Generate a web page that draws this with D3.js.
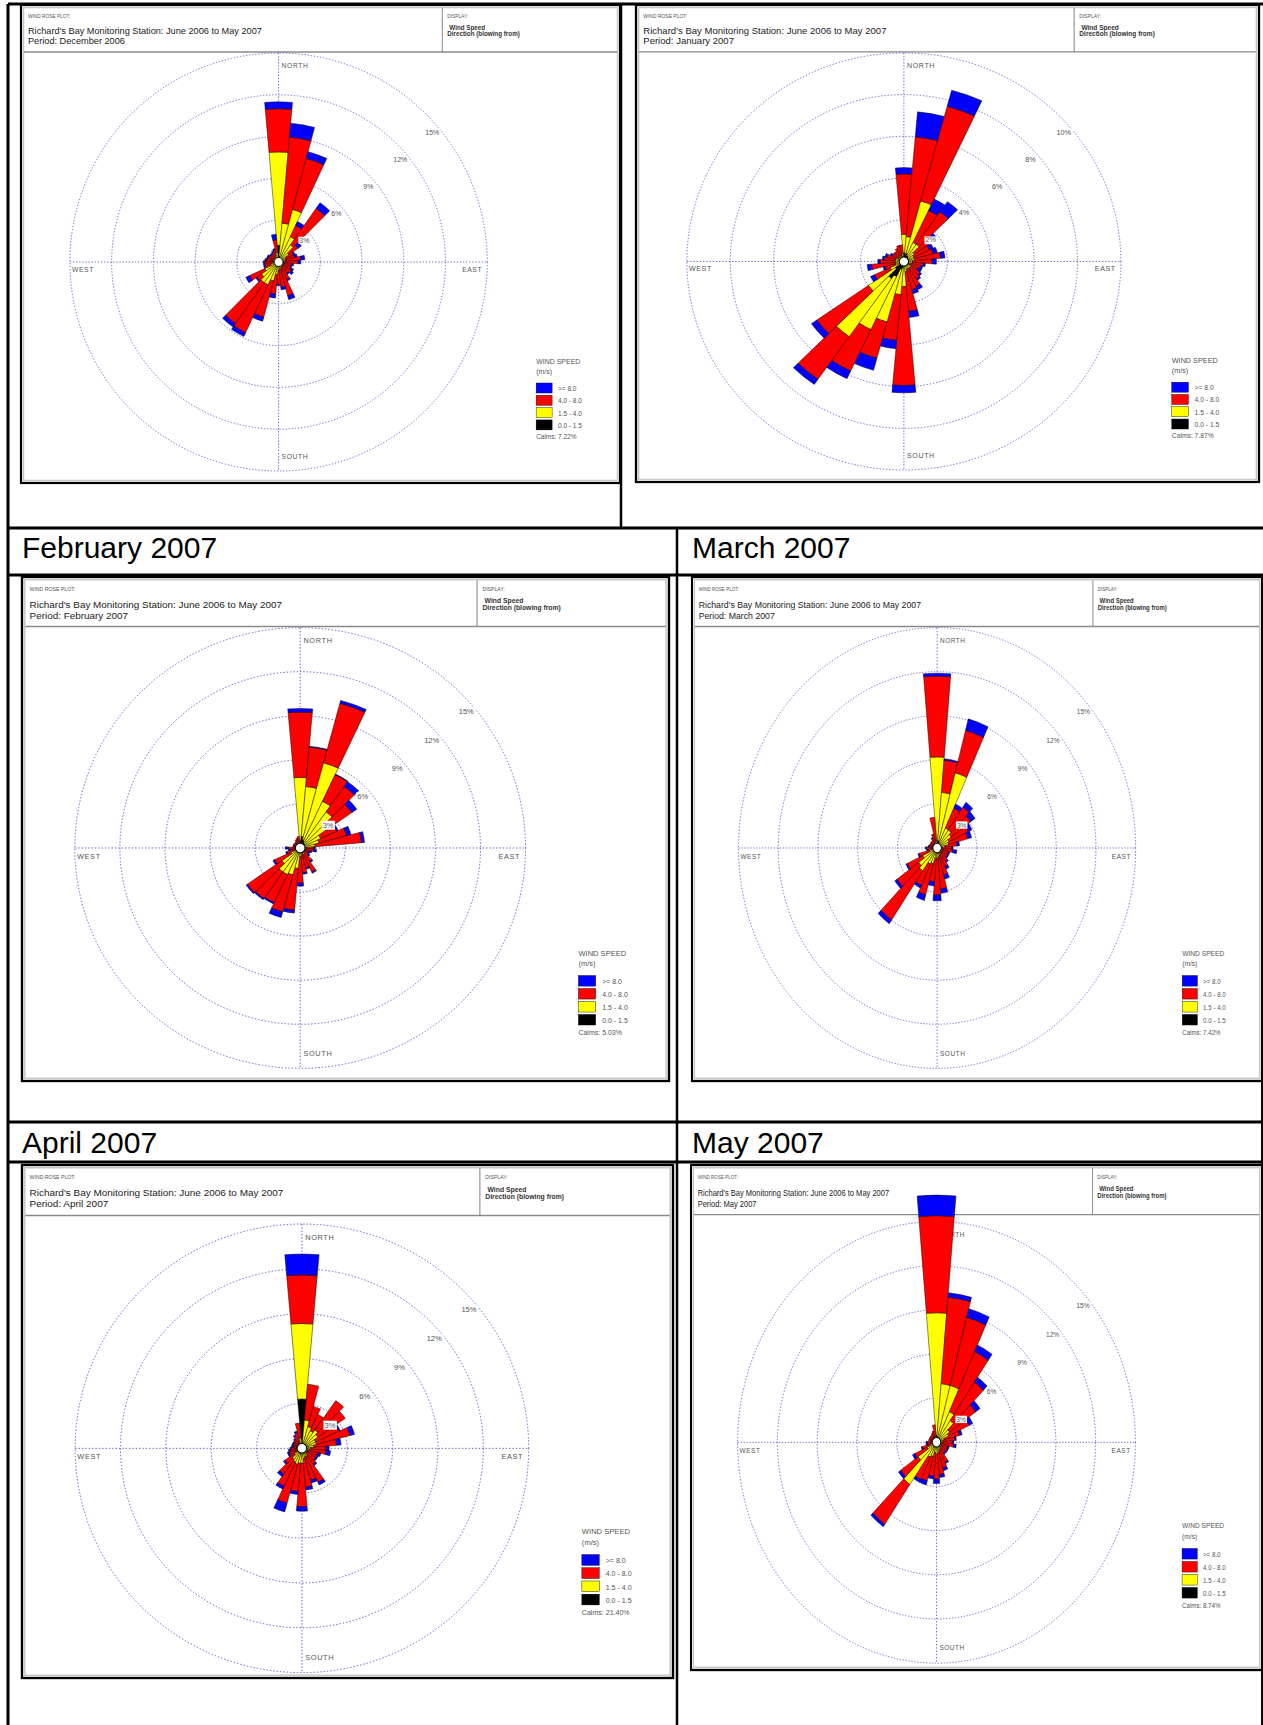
<!DOCTYPE html>
<html><head><meta charset="utf-8">
<script src="https://cdn.jsdelivr.net/npm/d3@7/dist/d3.min.js"></script>
<style>body{margin:0;background:#fff}svg{display:block}text{font-family:"Liberation Sans",Arial,sans-serif}</style>
</head><body>
<svg id="c" width="1263" height="1725"></svg>
<script>
// ---------- categories ----------
const directions = [0,10,20,30,40,50,60,70,80,90,100,110,120,130,140,150,160,170,
                    180,190,200,210,220,230,240,250,260,270,280,290,300,310,320,330,340,350];
const speedClasses = ["0.0 - 1.5","1.5 - 4.0","4.0 - 8.0",">= 8.0"];
const classColors = ["#000000","#ffff00","#ff0000","#0000ff"];
const stationTitle = "Richard's Bay Monitoring Station: June 2006 to May 2007";

// ---------- series values (% of time), per direction 0..350 ----------
// December 2006
const decBlack  = [1.2,0.4,0.3,0.2,0.2,0.1,0.1,0.1,0.1, 0.1,0.1,0.1,0.1,0.1,0.1,0.1,0.1,0.1, 0.1,0.1,0.1,0.2,0.2,0.1,0.1,0.1,0.1, 0.1,0.1,0.1,0.1,0.1,0.1,0.1,0.2,0.3];
const decYellow = [6.7,2.4,3.6,1.8,1.3,0.8,0.5,0.4,0.4, 0.3,0.3,0.3,0.3,0.3,0.3,0.3,0.4,0.4, 0.5,0.8,1.3,1.6,1.6,1.4,1.0,0.5,0.4, 0.3,0.3,0.3,0.3,0.3,0.3,0.3,0.3,0.4];
const decRed    = [3.1,6.2,3.8,0.9,3.2,0.8,0.6,0.7,1.1, 1.0,0.6,0.5,0.6,0.7,0.6,1.0,2.0,1.3, 1.0,1.4,2.7,3.8,3.6,0.4,1.2,0.4,0.5, 0.6,0.5,0.4,0.4,0.3,0.3,0.4,0.4,0.9];
const decBlue   = [0.5,1.0,0.5,0.3,0.5,0.3,0.1,0.2,0.3, 0.2,0.1,0.1,0.2,0.2,0.1,0.1,0.3,0.2, 0.1,0.3,0.3,0.3,0.3,0.1,0.3,0.1,0.1, 0.1,0.1,0.1,0.1,0.1,0.1,0.1,0.1,0.4];
// January 2007
const janBlack  = [0.4,0.4,0.4,0.3,0.3,0.2,0.1,0.1,0.1, 0.1,0.1,0.1,0.1,0.1,0.1,0.1,0.1,0.1, 0.2,0.3,0.4,0.8,1.0,0.5,0.2,0.1,0.1, 0.1,0.1,0.1,0.1,0.1,0.1,0.1,0.1,0.1];
const janYellow = [0.9,0.8,2.6,0.7,0.7,0.4,0.4,0.4,0.4, 0.3,0.3,0.2,0.2,0.3,0.3,0.3,0.3,0.4, 1.0,1.3,2.6,2.8,3.4,1.5,0.5,0.3,0.3, 0.3,0.3,0.3,0.2,0.2,0.2,0.2,0.2,0.3];
const janRed    = [2.9,4.8,4.7,1.7,1.9,1.1,0.8,0.9,1.2, 0.9,0.5,0.5,0.4,0.5,0.6,0.9,1.0,1.9, 4.75,2.2,1.8,2.2,2.5,2.9,0.8,0.5,1.1, 0.7,0.5,0.4,0.3,0.3,0.3,0.4,0.5,0.4];
const janBlue   = [0.3,1.2,0.8,0.6,0.6,0.2,0.2,0.2,0.2, 0.2,0.1,0.1,0.2,0.1,0.1,0.2,0.2,0.3, 0.35,0.4,0.6,0.4,0.3,0.3,0.2,0.1,0.2, 0.1,0.1,0.1,0.1,0.0,0.0,0.0,0.0,0.0];
// February 2007
const febBlack  = [0.5,0.8,0.6,0.5,0.4,0.4,0.3,0.3,0.2, 0.1,0.1,0.1,0.1,0.1,0.1,0.1,0.1,0.1, 0.1,0.2,0.3,0.3,0.3,0.2,0.1,0.1,0.1, 0.1,0.1,0.1,0.1,0.1,0.1,0.1,0.1,0.2];
const febYellow = [4.3,3.4,5.4,3.0,2.6,1.8,1.2,1.0,0.8, 0.3,0.3,0.2,0.2,0.2,0.3,0.4,0.3,0.4, 0.5,1.2,1.6,1.7,1.7,1.3,0.6,0.3,0.2, 0.2,0.1,0.1,0.1,0.1,0.1,0.2,0.2,0.2];
const febRed    = [4.45,2.7,4.2,2.0,2.1,2.0,1.2,1.9,3.1, 0.5,0.5,0.4,0.3,0.4,0.7,1.3,1.0,1.2, 1.8,2.85,2.6,2.1,2.2,2.8,1.2,0.5,0.3, 0.5,0.3,0.3,0.3,0.3,0.3,0.3,0.4,0.4];
const febBlue   = [0.25,0.05,0.2,0.05,0.4,0.4,0.1,0.3,0.2, 0.1,0.2,0.1,0.1,0.1,0.1,0.1,0.1,0.1, 0.2,0.2,0.4,0.1,0.1,0.1,0.1,0.1,0.2, 0.2,0.0,0.0,0.0,0.0,0.0,0.0,0.0,0.0];
// March 2007
const marBlack  = [0.5,0.5,0.5,0.3,0.3,0.3,0.2,0.2,0.1, 0.1,0.1,0.1,0.1,0.1,0.1,0.1,0.1,0.1, 0.1,0.1,0.2,0.2,0.3,0.3,0.2,0.1,0.1, 0.1,0.1,0.1,0.1,0.1,0.1,0.1,0.1,0.1];
const marYellow = [5.7,3.3,4.8,1.2,1.2,1.0,0.8,0.7,0.5, 0.3,0.3,0.3,0.3,0.3,0.3,0.3,0.4,0.5, 0.6,0.6,0.9,1.0,1.6,1.4,1.0,0.5,0.2, 0.2,0.2,0.2,0.2,0.2,0.2,0.2,0.3,0.4];
const marRed    = [5.5,2.2,3.0,1.5,1.9,1.8,1.6,1.5,0.9, 0.7,0.8,0.5,0.5,0.5,0.7,1.0,1.4,2.2, 2.5,1.6,2.2,1.6,4.1,2.0,1.3,0.8,0.4, 0.5,0.3,0.3,0.3,0.3,0.3,0.4,0.6,1.6];
const marBlue   = [0.2,0.1,0.8,0.3,0.4,0.4,0.3,0.3,0.2, 0.1,0.3,0.1,0.1,0.1,0.1,0.2,0.3,0.3, 0.4,0.3,0.4,0.2,0.3,0.2,0.1,0.1,0.1, 0.1,0.1,0.0,0.0,0.0,0.0,0.1,0.0,0.0];
// April 2007
const aprBlack  = [3.3,0.4,0.3,0.3,0.3,0.3,0.2,0.2,0.2, 0.1,0.1,0.1,0.1,0.1,0.1,0.1,0.1,0.1, 0.2,0.2,0.2,0.2,0.2,0.1,0.1,0.1,0.1, 0.1,0.1,0.1,0.1,0.1,0.1,0.1,0.1,0.2];
const aprYellow = [5.05,1.5,1.2,1.0,1.2,1.0,0.8,0.8,0.6, 0.5,0.4,0.3,0.3,0.3,0.3,0.5,0.5,0.6, 0.8,0.8,0.9,0.8,0.7,0.5,0.3,0.3,0.3, 0.2,0.2,0.2,0.2,0.2,0.2,0.3,0.3,0.5];
const aprRed    = [3.25,2.4,1.4,1.2,2.4,2.2,1.7,2.3,1.5, 1.0,1.1,0.7,0.7,0.7,0.9,1.9,1.6,1.9, 2.9,1.9,2.7,1.8,1.2,0.8,0.5,0.5,0.4, 0.4,0.3,0.3,0.3,0.3,0.4,0.5,0.7,1.0];
const aprBlue   = [1.4,0.0,0.0,0.0,0.0,0.0,0.1,0.3,0.3, 0.2,0.3,0.2,0.1,0.1,0.1,0.2,0.2,0.2, 0.3,0.2,0.6,0.2,0.2,0.1,0.1,0.1,0.1, 0.1,0.1,0.1,0.1,0.1,0.1,0.1,0.1,0.0];
// May 2007
const mayBlack  = [0.5,0.4,0.4,0.3,0.3,0.2,0.2,0.1,0.1, 0.1,0.1,0.1,0.1,0.1,0.1,0.1,0.1,0.1, 0.1,0.1,0.2,0.2,0.3,0.2,0.1,0.1,0.1, 0.1,0.1,0.1,0.1,0.1,0.1,0.1,0.1,0.1];
const mayYellow = [8.3,3.6,3.6,2.0,1.5,1.0,0.8,0.5,0.4, 0.3,0.3,0.3,0.3,0.3,0.3,0.4,0.5,0.6, 0.7,0.6,0.8,0.9,3.2,1.5,0.7,0.4,0.2, 0.2,0.2,0.2,0.2,0.2,0.2,0.2,0.2,0.3];
const mayRed    = [6.6,5.9,4.8,4.5,3.2,2.4,1.7,1.2,0.9, 0.8,0.9,0.5,0.5,0.5,0.5,1.0,1.2,1.5, 1.7,1.6,1.7,1.7,3.3,1.6,1.0,0.6,0.4, 0.4,0.3,0.3,0.3,0.3,0.3,0.4,0.5,0.8];
const mayBlue   = [1.4,0.3,0.6,0.5,0.4,0.4,0.3,0.2,0.1, 0.1,0.2,0.1,0.1,0.1,0.1,0.1,0.2,0.2, 0.3,0.2,0.3,0.2,0.2,0.2,0.2,0.1,0.1, 0.1,0.0,0.0,0.0,0.0,0.0,0.0,0.0,0.0];

// ---------- tick labels / texts ----------
const ringsDefault = [3,6,9,12,15];
const ringsJan = [2,4,6,8,10];
const rowLabels = ["February 2007","March 2007","April 2007","May 2007"];

const panels = [
  {period:"December 2006", calms:"7.22%", rings:ringsDefault, series:[decBlack,decYellow,decRed,decBlue]},
  {period:"January 2007",  calms:"7.87%", rings:ringsJan,     series:[janBlack,janYellow,janRed,janBlue]},
  {period:"February 2007", calms:"5.03%", rings:ringsDefault, series:[febBlack,febYellow,febRed,febBlue]},
  {period:"March 2007",    calms:"7.42%", rings:ringsDefault, series:[marBlack,marYellow,marRed,marBlue]},
  {period:"April 2007",    calms:"21.40%",rings:ringsDefault, series:[aprBlack,aprYellow,aprRed,aprBlue]},
  {period:"May 2007",      calms:"8.74%", rings:ringsDefault, series:[mayBlack,mayYellow,mayRed,mayBlue]}
];

// ---------- layout (page coordinates) ----------
const panelBoxes = [[21,5,599,478],[636,5,623,477],[22,577,647,504],[692,577,570,504],[22,1165,651,513],[691,1165,571,505]];
// per-panel fine offsets inside the (base 600x478) panel: rose dy, legend dy, title font scale
const panelTweaks = [[0,0,1],[0,0,1],[0,0,1],[0,0,1],[7,-15,1],[5.5,-15,0.86]];
const labelPos = [[22,558],[692,558],[22,1153],[692,1153]];
const tableLines = [
  [8,4,1263,4,3],[8,4,8,1725,3],[621,4,621,528,2.5],
  [8,528,1263,528,3],[8,575,1263,575,3],[677,528,677,1725,2.5],
  [8,1122,1263,1122,3],[8,1162,1263,1162,3],[1262,575,1262,1725,2]
];

const svg = d3.select("#c");
const BW = 600, BH = 478, CX = 258, CY = 257, R = 209;
const ringColor = "#5c5cc8";

tableLines.forEach(l => svg.append("line").attr("x1",l[0]).attr("y1",l[1]).attr("x2",l[2]).attr("y2",l[3])
  .attr("stroke","#000").attr("stroke-width",l[4]));

rowLabels.forEach((t,i) => svg.append("text").attr("x",labelPos[i][0]).attr("y",labelPos[i][1])
  .attr("font-size",30).attr("fill","#000").text(t));

panels.forEach((p, pi) => {
  const [bx,by,bw,bh] = panelBoxes[pi];
  const [rdy, ldy, ts] = panelTweaks[pi];
  const g = svg.append("g").attr("transform",`translate(${bx},${by}) scale(${bw/BW},${bh/BH})`);
  g.append("rect").attr("x",0).attr("y",0).attr("width",BW).attr("height",BH).attr("fill","#fff").attr("stroke","#000").attr("stroke-width",2.2);
  g.append("rect").attr("x",2.5).attr("y",2.5).attr("width",BW-5).attr("height",BH-5).attr("fill","none").attr("stroke","#c8c8c8").attr("stroke-width",1.5);
  // header
  g.append("line").attr("x1",3).attr("x2",BW-3).attr("y1",47).attr("y2",47).attr("stroke","#8a8a8a").attr("stroke-width",1.3);
  g.append("line").attr("x1",422).attr("x2",422).attr("y1",3).attr("y2",47).attr("stroke","#8a8a8a").attr("stroke-width",1);
  g.append("text").attr("x",7).attr("y",13).attr("font-size",4.8).attr("fill","#555").text("WIND ROSE PLOT:");
  g.append("text").attr("x",7).attr("y",29).attr("font-size",9.2*ts).attr("fill","#222").text(stationTitle);
  g.append("text").attr("x",7).attr("y",39.5).attr("font-size",9.2*ts).attr("fill","#222").text("Period: " + p.period);
  g.append("text").attr("x",427).attr("y",13).attr("font-size",4.8).attr("fill","#555").text("DISPLAY:");
  g.append("text").attr("x",429).attr("y",25).attr("font-size",6.3).attr("font-weight","bold").attr("fill","#333").text("Wind Speed");
  g.append("text").attr("x",427).attr("y",31.5).attr("font-size",6.3).attr("font-weight","bold").attr("fill","#333").text("Direction (blowing from)");

  const maxRing = p.rings[p.rings.length-1];
  const r = d3.scaleLinear().domain([0,maxRing]).range([0,R]);
  const rose = g.append("g").attr("transform",`translate(${CX},${CY+rdy})`);
  rose.selectAll("circle.ring").data(p.rings).join("circle").attr("class","ring")
    .attr("r",d=>r(d)).attr("fill","none").attr("stroke",ringColor).attr("stroke-width",0.9).attr("stroke-dasharray","1.3,1.8");
  rose.append("line").attr("x1",-R).attr("x2",R).attr("y1",0).attr("y2",0).attr("stroke",ringColor).attr("stroke-width",0.9).attr("stroke-dasharray","1.3,1.8");
  rose.append("line").attr("y1",-R).attr("y2",R).attr("x1",0).attr("x2",0).attr("stroke",ringColor).attr("stroke-width",0.9).attr("stroke-dasharray","1.3,1.8");

  // compass labels (under the bars)
  const lab = (x,y,t,anchor) => rose.append("text").attr("x",x).attr("y",y).attr("text-anchor",anchor)
    .attr("font-size",6.8).attr("letter-spacing",0.6).attr("fill","#555").text(t);
  lab(3, -R+15, "NORTH", "start");
  lab(3, R-12, "SOUTH", "start");
  lab(R-5, 10, "EAST", "end");
  lab(-R+2, 10, "WEST", "start");

  // stacked sectors
  const arc = d3.arc();
  const segs = [];
  directions.forEach((dir, i) => {
    let cum = 0;
    p.series.forEach((s, c) => {
      const v = s[i];
      if (v > 0) segs.push({dir, c, a: cum, b: cum + v});
      cum += v;
    });
  });
  rose.selectAll("path.seg").data(segs).join("path").attr("class","seg")
    .attr("d", d => arc({innerRadius:r(d.a), outerRadius:r(d.b),
        startAngle:(d.dir-5)*Math.PI/180, endAngle:(d.dir+5)*Math.PI/180}))
    .attr("fill", d => classColors[d.c]).attr("stroke","#000").attr("stroke-width",0.45).attr("stroke-linejoin","round");
  rose.append("circle").attr("r",4.5).attr("fill","#fff").attr("stroke","#000").attr("stroke-width",1);

  // ring labels
  const la = 50*Math.PI/180;
  p.rings.forEach(v => {
    const rr = r(v) - 8;
    const x = rr*Math.sin(la), y = -rr*Math.cos(la);
    const t = rose.append("text").attr("x",x).attr("y",y+2.5).attr("text-anchor","middle")
      .attr("font-size",7).attr("fill","#555").text(v + "%");
    const bb = t.node().getBBox();
    rose.insert("rect", () => t.node()).attr("x",bb.x-1).attr("y",bb.y).attr("width",bb.width+2).attr("height",bb.height).attr("fill","#fff");
  });

  // legend
  const lg = g.append("g").attr("transform",`translate(516,${ldy})`);
  lg.append("text").attr("x",0).attr("y",359).attr("font-size",7).attr("fill","#555").text("WIND SPEED");
  lg.append("text").attr("x",0).attr("y",369).attr("font-size",7).attr("fill","#555").text("(m/s)");
  const order = [3,2,1,0];
  order.forEach((c, k) => {
    lg.append("rect").attr("x",0).attr("y",378+k*12.3).attr("width",16).attr("height",10)
      .attr("fill",classColors[c]).attr("stroke","#000").attr("stroke-width",0.4);
    lg.append("text").attr("x",22).attr("y",386+k*12.3).attr("font-size",6.5).attr("fill","#555").text(speedClasses[c]);
  });
  lg.append("text").attr("x",0).attr("y",434).attr("font-size",6.5).attr("fill","#555").text("Calms: " + p.calms);
});
</script>
</body></html>
